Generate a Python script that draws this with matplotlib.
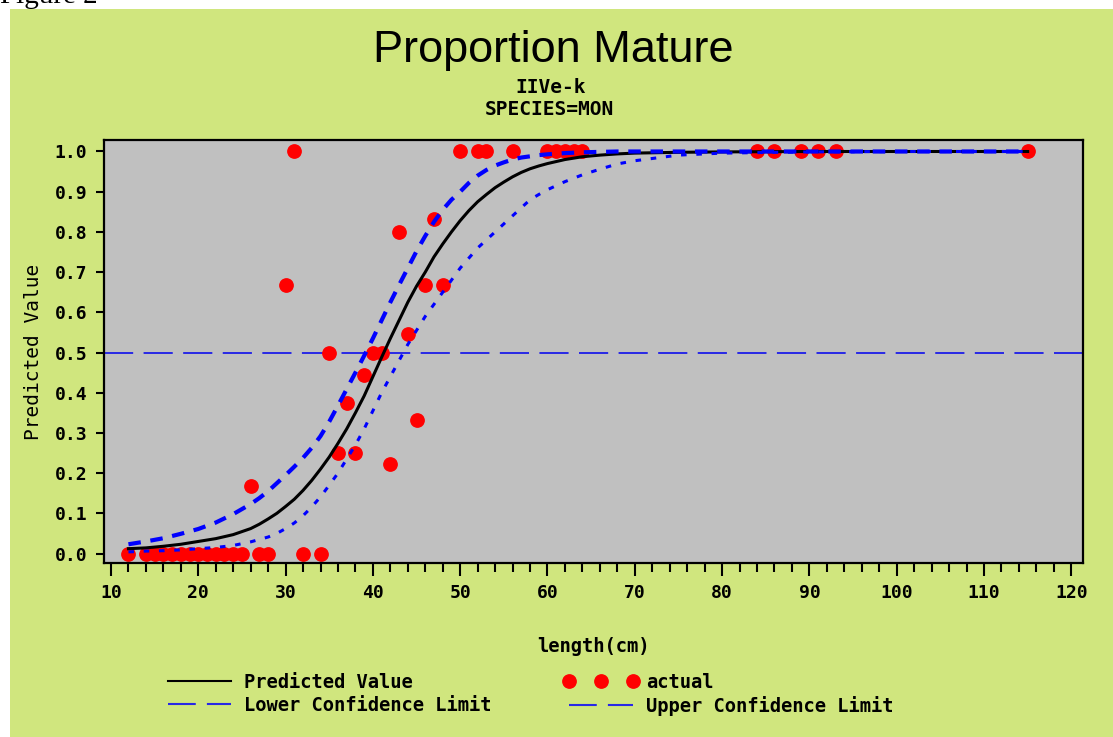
import matplotlib
matplotlib.use("Agg")
import matplotlib.pyplot as plt
from matplotlib.lines import Line2D
from matplotlib.patches import Rectangle
from matplotlib.ticker import MultipleLocator

plt.rcParams['lines.scale_dashes'] = False

# ---------------- data ----------------
# observed proportion mature by length
actual_x = [12, 14, 15, 16, 17, 18, 19, 20, 21, 22, 23, 24, 25, 27, 28, 32, 34,
            26, 30, 35, 36, 37, 38, 39, 40, 41, 42, 43, 44, 45, 46, 47, 48,
            31, 50, 52, 53, 56, 60, 61, 62, 63, 64, 84, 86, 89, 91, 93, 115]
actual_y = [0, 0, 0, 0, 0, 0, 0, 0, 0, 0, 0, 0, 0, 0, 0, 0, 0,
            0.167, 0.667, 0.5, 0.25, 0.375, 0.25, 0.444, 0.5, 0.5, 0.222, 0.8, 0.545, 0.333, 0.667, 0.833, 0.667,
            1, 1, 1, 1, 1, 1, 1, 1, 1, 1, 1, 1, 1, 1, 1, 1]

# fitted curve and confidence limits
curve_x = [12, 14, 16, 18, 20, 22, 24, 26,
           27, 28, 29, 30, 31, 32, 33, 34, 35, 36, 37, 38, 39, 40, 41, 42, 43,
           44, 45, 46, 47, 48, 49, 50, 51, 52, 53, 54, 55, 56, 57, 58, 59, 60,
           62, 64, 66, 68, 70, 75, 80, 90, 100, 115]
predicted = [0.012, 0.014, 0.018, 0.023, 0.030, 0.037, 0.047, 0.062,
             0.073, 0.086, 0.100, 0.117, 0.135, 0.157, 0.182, 0.210, 0.240, 0.274, 0.310, 0.350,
             0.392, 0.440, 0.488, 0.535, 0.580,
             0.625, 0.665, 0.700, 0.738, 0.770, 0.800, 0.828, 0.853, 0.875, 0.893, 0.910, 0.924,
             0.937, 0.948, 0.957, 0.964, 0.970,
             0.980, 0.987, 0.991, 0.994, 0.996, 0.998, 0.999, 1.0, 1.0, 1.0]
upper_cl = [0.023, 0.030, 0.038, 0.049, 0.061, 0.077, 0.098, 0.123,
            0.138, 0.155, 0.175, 0.195, 0.216, 0.238, 0.263, 0.292, 0.328, 0.368, 0.409, 0.450,
            0.492, 0.535, 0.580, 0.625, 0.668,
            0.710, 0.752, 0.790, 0.825, 0.855, 0.880, 0.900, 0.922, 0.940, 0.954, 0.965, 0.973,
            0.980, 0.985, 0.988, 0.991, 0.993,
            0.996, 0.998, 0.999, 1.0, 1.0, 1.0, 1.0, 1.0, 1.0, 1.0]
lower_cl = [0.004, 0.006, 0.007, 0.009, 0.012, 0.015, 0.020, 0.029,
            0.035, 0.041, 0.050, 0.062, 0.076, 0.094, 0.116, 0.141, 0.170, 0.200, 0.235, 0.270,
            0.310, 0.355, 0.400, 0.440, 0.480,
            0.520, 0.555, 0.590, 0.620, 0.650, 0.680, 0.710, 0.735, 0.760, 0.780, 0.800, 0.820,
            0.840, 0.860, 0.880, 0.893, 0.905,
            0.925, 0.942, 0.956, 0.969, 0.977, 0.991, 0.996, 0.999, 1.0, 1.0]
ref_level = 0.5

x_ticks = list(range(10, 121, 10))
y_ticks = [0.0, 0.1, 0.2, 0.3, 0.4, 0.5, 0.6, 0.7, 0.8, 0.9, 1.0]

GREEN = '#d0e67e'
GRAY = '#c0c0c0'
BLUE = '#0000ff'
REFBLUE = '#2828e6'
MONO = 'DejaVu Sans Mono'

fig = plt.figure(figsize=(11.13, 7.37), dpi=100, facecolor='white')
W, H = 1113, 737

# green panel
fig.add_artist(Rectangle((10 / W, 0), 1 - 10 / W, 1 - 9 / H, transform=fig.transFigure,
                         facecolor=GREEN, edgecolor='none', zorder=-10))
fig.text(0.0, 1 - 3 / H, 'Figure 2', family='Liberation Serif', fontsize=21,
         ha='left', va='baseline', color='black')

ax = fig.add_axes([104 / W, 1 - 563 / H, (1083 - 104) / W, (563 - 140) / H])
ax.set_facecolor(GRAY)
ax.set_xlim(9.2, 121.34)
ax.set_ylim(-0.0236, 1.0286)

ax.axhline(ref_level, color=REFBLUE, lw=1.4, dashes=(21, 7.5), zorder=1)
ax.plot(actual_x, actual_y, linestyle='none', marker='o', markersize=9.6,
        markerfacecolor='red', markeredgecolor='red', zorder=2)
ax.plot(curve_x, predicted, color='black', lw=2.2, zorder=3)
ax.plot(curve_x, upper_cl, color=BLUE, lw=3.0, dashes=(9, 7), zorder=4)
ax.plot(curve_x, lower_cl, color=BLUE, lw=2.2, dashes=(4, 7), zorder=4)

for s in ax.spines.values():
    s.set_linewidth(1.6)
    s.set_color('black')

ax.set_xticks(x_ticks)
ax.xaxis.set_minor_locator(MultipleLocator(2))
ax.set_yticks(y_ticks)
ax.set_yticklabels([f'{v:.1f}' for v in y_ticks])
ax.tick_params(axis='x', which='major', direction='out', length=9, width=1.5, pad=6)
ax.tick_params(axis='x', which='minor', direction='out', length=6.5, width=1.5)
ax.tick_params(axis='y', which='major', direction='out', length=6, width=1.5, pad=6)
for lab in ax.get_xticklabels() + ax.get_yticklabels():
    lab.set_fontfamily(MONO)
    lab.set_fontweight('bold')
    lab.set_fontsize(13)

ax.set_xlabel('length(cm)', fontfamily=MONO, fontweight='bold', fontsize=13.5)
ax.xaxis.set_label_coords(0.5, -0.175)
ax.set_ylabel('Predicted Value', fontfamily=MONO, fontsize=14)
ax.yaxis.set_label_coords(-0.062, 0.5)

# titles
fig.text(553 / W, 1 - 62 / H, 'Proportion Mature', family='Liberation Sans', fontsize=32.5,
         ha='center', va='baseline')
fig.text(551 / W, 1 - 93 / H, 'IIVe-k', family=MONO, fontweight='bold', fontsize=14,
         ha='center', va='baseline')
fig.text(549 / W, 1 - 115 / H, 'SPECIES=MON', family=MONO, fontweight='bold', fontsize=14,
         ha='center', va='baseline')

# legend
h_pred = Line2D([], [], color='black', lw=1.5)
h_low = Line2D([], [], color=REFBLUE, lw=1.5, dashes=(20, 8))
h_act = Line2D([], [], color='red', linestyle='none', marker='o', markersize=9.6)
h_up = Line2D([], [], color=REFBLUE, lw=1.5, dashes=(20, 8))
leg = fig.legend([h_pred, h_low, h_act, h_up],
                 ['Predicted Value', 'Lower Confidence Limit', 'actual', 'Upper Confidence Limit'],
                 ncol=2, loc='upper left', bbox_to_anchor=(162 / W, 1 - 673 / H),
                 frameon=False, borderpad=0, borderaxespad=0, numpoints=3,
                 handlelength=4.0, handletextpad=0.4, columnspacing=3.8, labelspacing=0.2,
                 prop={'family': MONO, 'weight': 'bold', 'size': 13.5})

fig.savefig('out.png', dpi=100, facecolor='white')
